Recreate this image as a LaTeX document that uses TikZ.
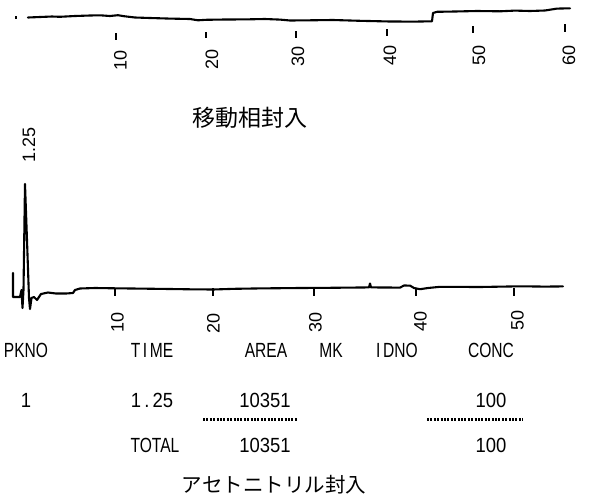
\documentclass[tikz,border=0pt]{standalone}
\usepackage{fontspec}
\setmainfont{Liberation Sans}
\newfontfamily\cjk{Noto Sans CJK JP}
\usepackage{graphicx}
\newcommand{\cnd}[1]{\scalebox{0.76}[1]{#1}}
\newcommand{\cnn}[1]{\scalebox{0.9}[1]{#1}}
\begin{document}
\begin{tikzpicture}[x=1pt,y=-1pt,
  trace/.style={line width=2.1pt, line join=round, line cap=round},
  tickmark/.style={line width=2.4pt},
  axlbl/.style={rotate=90, font=\fontsize{18}{18}\selectfont, inner sep=0pt},
  hdr/.style={font=\fontsize{20.5}{20.5}\selectfont, inner sep=0pt},
  ttl/.style={font=\cjk\fontsize{23}{23}\selectfont, inner sep=0pt},
  ttlb/.style={font=\cjk\fontsize{20.5}{20.5}\selectfont, inner sep=0pt},
  sepline/.style={line width=2.4pt, dash pattern=on 2pt off 1.4pt}]
\useasboundingbox (0,0) rectangle (590,499);

% ---------- upper chromatogram ----------
\draw[line width=1.8pt] (16,16) -- (16,19);
\draw[trace] (28,17.5) -- (40,17) -- (52,16.5) -- (60,16.8) -- (75,16) -- (90,15.5)
  -- (100,15.3) -- (110,16) -- (118,15.2) -- (124,16.2) -- (135,17.5) -- (150,18)
  -- (170,18.6) -- (190,19) -- (198,20.3) -- (206,19.8) -- (225,19.5) -- (245,19.4)
  -- (265,19) -- (280,19.6) -- (290,20.5) -- (310,20.3) -- (333,20) -- (360,20.8)
  -- (390,21.5) -- (415,21.6) -- (432,21.3) -- (433,13) -- (437,11.8) -- (455,11.5)
  -- (477,11) -- (500,11.3) -- (515,10.6) -- (530,11) -- (545,10.5) -- (557,8.6)
  -- (570,8.3);
\foreach \x/\a/\b in {116/33/40, 206/32/38, 296/31/38, 387/29/36, 473/26/33, 565/24/32}
  \draw[tickmark] (\x,\a) -- (\x,\b);
\node[axlbl] (u10) at (120.5,60) {10};
\node[axlbl] (u20) at (212,59) {20};
\node[axlbl] (u30) at (298,56) {30};
\node[axlbl] (u40) at (390,55) {40};
\node[axlbl] (u50) at (479,55) {50};
\node[axlbl] (u60) at (569,55) {60};
\node[ttl] (t1) at (250,118) {移動相封入};

% ---------- lower chromatogram ----------
\node[axlbl] (p125) at (29,145) {1.25};
\draw[trace] (13,273) -- (13,297) -- (20,297) -- (21.5,290) -- (22.5,308) -- (23.5,290)
  -- (25,184) -- (27,240) -- (29,298) -- (30,309) -- (31.5,298) -- (34,297) -- (37,300)
  -- (41,294) -- (48,292.5) -- (56,293.5) -- (66,293.5) -- (73,293) -- (75,290)
  -- (80,288.5) -- (95,288) -- (115,288.3) -- (140,288.6) -- (170,289) -- (190,289.3)
  -- (213,289.5) -- (235,288.8) -- (260,288.4) -- (300,288) -- (330,287.8)
  -- (360,287.5) -- (369,287.4) -- (370,283.5) -- (371,287.4) -- (400,287.6)
  -- (404,285.5) -- (410,285.6) -- (414,288) -- (420,289.2) -- (428,288) -- (440,286.8)
  -- (480,287) -- (520,286.3) -- (545,286.6) -- (563,286.4);
\foreach \x in {115,213,314,416,514}
  \draw[tickmark] (\x,288) -- (\x,296);
\node[axlbl] (l10) at (117.5,322) {10};
\node[axlbl] (l20) at (213.5,323) {20};
\node[axlbl] (l30) at (315.5,322) {30};
\node[axlbl] (l40) at (420.5,321) {40};
\node[axlbl] (l50) at (517.5,320) {50};

% ---------- result table ----------
\node[hdr] (hpk) at (26,350.5) {\cnd{PKNO}};
\node[hdr] (hti) at (152,350.5) {\cnd{T\,I\,ME}};
\node[hdr] (har) at (266,350.5) {\cnd{AREA}};
\node[hdr] (hmk) at (331,350.5) {\cnd{MK}};
\node[hdr] (hid) at (397,350.5) {\cnd{I\,DNO}};
\node[hdr] (hco) at (491,350.5) {\cnd{CONC}};

\node[hdr] (r1pk) at (26,400) {\cnn{1}};
\node[hdr] (r1ti) at (152,400) {\cnn{1\,.\,25}};
\node[hdr] (r1ar) at (265,400) {\cnn{10351}};
\node[hdr] (r1co) at (491,400) {\cnn{100}};

\coordinate (s1a) at (203,419.5);
\coordinate (s1b) at (298,419.5);
\coordinate (s2a) at (427,419.5);
\coordinate (s2b) at (523,419.5);
\draw[sepline] (s1a) -- (s1b);
\draw[sepline] (s2a) -- (s2b);

\node[hdr] (tot) at (155,445) {\cnd{TOTAL}};
\node[hdr] (tar) at (265,445) {\cnn{10351}};
\node[hdr] (tco) at (491,445) {\cnn{100}};

\node[ttlb] (t2) at (274,485) {アセトニトリル封入};
\end{tikzpicture}
\end{document}
